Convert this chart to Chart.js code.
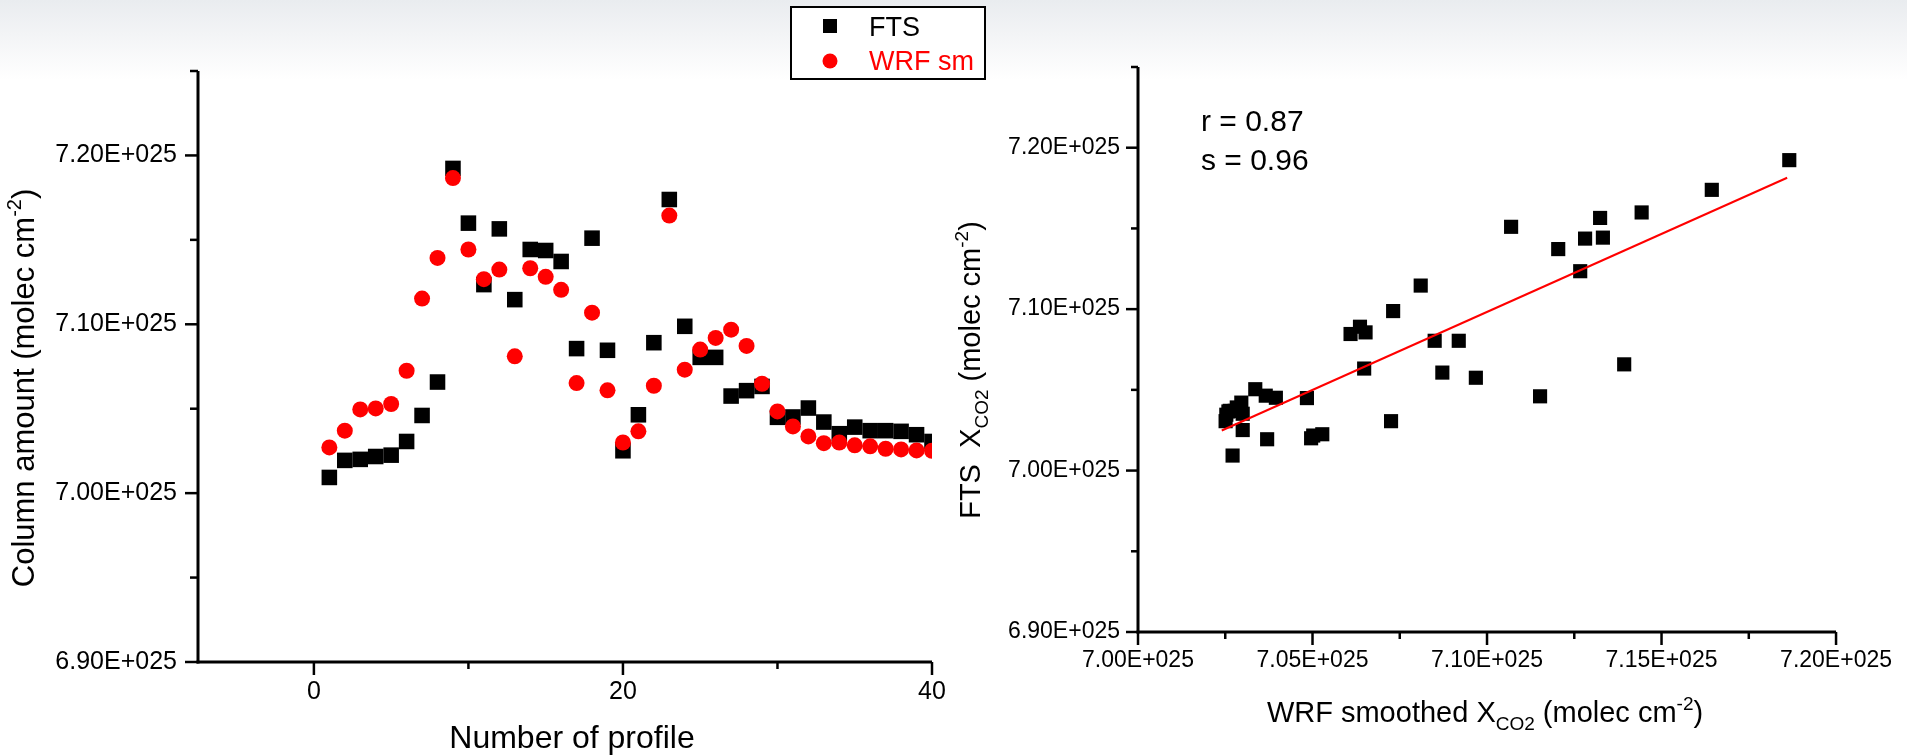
<!DOCTYPE html>
<html><head><meta charset="utf-8">
<script src="https://cdn.jsdelivr.net/npm/chart.js@4.4.1/dist/chart.umd.min.js"></script>
<style>
html,body{margin:0;padding:0;width:1907px;height:756px;overflow:hidden;
background:linear-gradient(to bottom,#e9ecef 0px,#f3f4f6 35px,#ffffff 80px);}
#c1{position:absolute;left:0;top:0;width:1000px;height:756px;}
#c2{position:absolute;left:940px;top:0;width:967px;height:756px;}
</style></head><body>
<canvas id="c1" width="1000" height="756"></canvas>
<canvas id="c2" width="967" height="756"></canvas>
<script>
// ---- data (values in units of 1E+025 molec cm^-2) ----
const profile = [1,2,3,4,5,6,7,8,9,10,11,12,13,14,15,16,17,18,19,20,21,22,23,24,25,26,27,28,29,30,31,32,33,34,35,36,37,38,39,40];
const fts = [7.0093,7.0194,7.0200,7.0217,7.0225,7.0306,7.0460,7.0658,7.1923,7.1599,
             7.1235,7.1565,7.1146,7.1443,7.1437,7.1372,7.0856,7.1510,7.0846,7.0251,
             7.0464,7.0891,7.1739,7.0988,7.0804,7.0804,7.0575,7.0607,7.0632,7.0449,
             7.0451,7.0504,7.0421,7.0352,7.0391,7.0370,7.0370,7.0366,7.0346,7.0306];
const wrfSm = [7.0271,7.0370,7.0496,7.0502,7.0528,7.0725,7.1152,7.1393,7.1866,7.1443,
               7.1267,7.1324,7.0810,7.1332,7.1281,7.1204,7.0652,7.1069,7.0609,7.0300,
               7.0366,7.0636,7.1644,7.0731,7.0850,7.0919,7.0968,7.0872,7.0648,7.0484,
               7.0395,7.0336,7.0296,7.0300,7.0283,7.0277,7.0263,7.0259,7.0253,7.0251];
const seriesNames = ['FTS','WRF sm'];
const fitX = [7.024, 7.186];
const fitY = [7.0248, 7.1814];
const statsText = ['r = 0.87','s = 0.96'];
const leftXTicks = [0,10,20,30,40];
const leftXLabels = ['0','','20','','40'];
const leftYTicks = [6.90,6.95,7.00,7.05,7.10,7.15,7.20,7.25];
const leftYLabels = ['6.90E+025','','7.00E+025','','7.10E+025','','7.20E+025',''];
const rightXTicks = [7.00,7.025,7.05,7.075,7.10,7.125,7.15,7.175,7.20];
const rightXLabels = ['7.00E+025','','7.05E+025','','7.10E+025','','7.15E+025','','7.20E+025'];
const rightYTicks = [6.90,6.95,7.00,7.05,7.10,7.15,7.20,7.25];
const rightYLabels = ['6.90E+025','','7.00E+025','','7.10E+025','','7.20E+025',''];

const FAM = '"Liberation Sans", Arial, Helvetica, sans-serif';
Chart.defaults.font.family = FAM;
Chart.defaults.color = '#000';

function drawRich(ctx, runs, size, x, y, rotate, color) {
  const parts = runs.map(r => {
    const fs = r.k === 'n' ? size : Math.round(size * 0.65);
    ctx.font = fs + 'px ' + FAM;
    return {t: r.t, fs, w: ctx.measureText(r.t).width,
            dy: r.k === 'sub' ? size * 0.28 : (r.k === 'sup' ? -size * 0.42 : 0)};
  });
  const total = parts.reduce((a, p) => a + p.w, 0);
  ctx.save();
  ctx.translate(x, y);
  if (rotate) ctx.rotate(-Math.PI / 2);
  ctx.fillStyle = color; ctx.textBaseline = 'alphabetic'; ctx.textAlign = 'left';
  let cx = -total / 2;
  for (const p of parts) { ctx.font = p.fs + 'px ' + FAM; ctx.fillText(p.t, cx, p.dy); cx += p.w; }
  ctx.restore();
}

function line(ctx, x1, y1, x2, y2) { ctx.beginPath(); ctx.moveTo(x1, y1); ctx.lineTo(x2, y2); ctx.stroke(); }

function axesPlugin(xTicks, xLabels, yTicks, yLabels, xMaj, xMin, yMaj, yMin) {
  return {
    id: 'axesDraw',
    afterDraw(chart) {
      const ctx = chart.ctx, ca = chart.chartArea;
      const xs = chart.scales.x, ys = chart.scales.y;
      ctx.save();
      ctx.strokeStyle = '#000'; ctx.lineCap = 'butt';
      ctx.lineWidth = 3;
      line(ctx, ca.left, ca.top, ca.left, ca.bottom + 1.5);
      line(ctx, ca.left - 1.5, ca.bottom, ca.right, ca.bottom);
      ctx.lineWidth = 2.5;
      yTicks.forEach((v, i) => {
        const py = ys.getPixelForValue(v);
        const len = yLabels[i] ? yMaj : yMin;
        line(ctx, ca.left - len, py, ca.left, py);
      });
      xTicks.forEach((v, i) => {
        const px = xs.getPixelForValue(v);
        const len = xLabels[i] ? xMaj : xMin;
        line(ctx, px, ca.bottom, px, ca.bottom + len);
      });
      ctx.restore();
    }
  };
}

function scaleCfg(min, max, ticks, labels, fitSize, isX, fontSize, pad) {
  return {
    type: 'linear', min, max,
    afterBuildTicks: s => { s.ticks = ticks.map(v => ({value: v})); },
    afterFit: s => { if (isX) s.height = fitSize; else s.width = fitSize; },
    grid: {display: false, drawTicks: false},
    border: {display: false},
    ticks: {callback: (v, i) => labels[i], padding: pad, color: '#000',
            font: {family: FAM, size: fontSize}, autoSkip: false, maxRotation: 0, minRotation: 0}
  };
}

// ---- left chart ----
const leftExtras = {
  id: 'leftExtras',
  afterDraw(chart) {
    const ctx = chart.ctx;
    drawRich(ctx, [{t: 'Column amount (molec cm', k: 'n'}, {t: '-2', k: 'sup'}, {t: ')', k: 'n'}], 31, 34, 388, true, '#000');
    drawRich(ctx, [{t: 'Number of profile', k: 'n'}], 32, 572, 748, false, '#000');
    // legend
    const ds = chart.data.datasets;
    ctx.save();
    ctx.fillStyle = '#fff'; ctx.fillRect(791, 7, 194, 72);
    ctx.strokeStyle = '#000'; ctx.lineWidth = 2; ctx.strokeRect(791, 7, 194, 72);
    const f = ds.find(d => d.label === seriesNames[0]);
    const w = ds.find(d => d.label === seriesNames[1]);
    ctx.fillStyle = f.backgroundColor; ctx.fillRect(823, 19, 14, 14);
    ctx.fillStyle = w.backgroundColor; ctx.beginPath(); ctx.arc(830, 61, 7.5, 0, Math.PI * 2); ctx.fill();
    ctx.font = '27px ' + FAM; ctx.textBaseline = 'alphabetic'; ctx.textAlign = 'left';
    ctx.fillStyle = '#000'; ctx.fillText(f.label, 869, 36);
    ctx.fillStyle = '#ff0000'; ctx.fillText(w.label, 869, 70);
    ctx.restore();
  }
};

new Chart(document.getElementById('c1'), {
  type: 'scatter',
  data: {
    datasets: [
      {label: seriesNames[0], data: profile.map((p, i) => ({x: p, y: fts[i]})),
       pointStyle: 'rect', pointRadius: 11, backgroundColor: '#000000', borderWidth: 0, order: 1, clip: 0},
      {label: seriesNames[1], data: profile.map((p, i) => ({x: p, y: wrfSm[i]})),
       pointStyle: 'circle', pointRadius: 8, backgroundColor: '#ff0000', borderWidth: 0, order: 0, clip: 0}
    ]
  },
  options: {
    responsive: false, animation: false, devicePixelRatio: 1,
    layout: {padding: {left: 0, top: 71, right: 68, bottom: 0}},
    plugins: {legend: {display: false}, tooltip: {enabled: false}},
    scales: {
      x: scaleCfg(-7.5, 40, leftXTicks, leftXLabels, 94, true, 25, 15),
      y: scaleCfg(6.90, 7.25, leftYTicks, leftYLabels, 198, false, 25, 21)
    }
  },
  plugins: [axesPlugin(leftXTicks, leftXLabels, leftYTicks, leftYLabels, 13, 7, 13, 8), leftExtras]
});

// ---- right chart ----
const rightExtras = {
  id: 'rightExtras',
  afterDraw(chart) {
    const ctx = chart.ctx;
    drawRich(ctx, [{t: 'FTS  X', k: 'n'}, {t: 'CO2', k: 'sub'}, {t: ' (molec cm', k: 'n'}, {t: '-2', k: 'sup'}, {t: ')', k: 'n'}], 29, 40, 370, true, '#000');
    drawRich(ctx, [{t: 'WRF smoothed X', k: 'n'}, {t: 'CO2', k: 'sub'}, {t: ' (molec cm', k: 'n'}, {t: '-2', k: 'sup'}, {t: ')', k: 'n'}], 29, 545, 722, false, '#000');
    ctx.save();
    ctx.font = '30px ' + FAM; ctx.fillStyle = '#000'; ctx.textAlign = 'left'; ctx.textBaseline = 'alphabetic';
    ctx.fillText(statsText[0], 261, 131);
    ctx.fillText(statsText[1], 261, 170);
    ctx.restore();
  }
};

new Chart(document.getElementById('c2'), {
  type: 'scatter',
  data: {
    datasets: [
      {label: 'FTS vs WRF', data: wrfSm.map((w, i) => ({x: w, y: fts[i]})),
       pointStyle: 'rect', pointRadius: 10, backgroundColor: '#000000', borderWidth: 0, order: 1},
      {label: 'fit', data: fitX.map((x, i) => ({x, y: fitY[i]})), showLine: true,
       borderColor: '#ff0000', borderWidth: 2, pointRadius: 0, order: 0}
    ]
  },
  options: {
    responsive: false, animation: false, devicePixelRatio: 1,
    layout: {padding: {left: 0, top: 67, right: 65, bottom: 0}},
    plugins: {legend: {display: false}, tooltip: {enabled: false}},
    scales: {
      x: scaleCfg(7.00, 7.20, rightXTicks, rightXLabels, 124, true, 23, 15),
      y: scaleCfg(6.90, 7.25, rightYTicks, rightYLabels, 198, false, 23, 18)
    }
  },
  plugins: [axesPlugin(rightXTicks, rightXLabels, rightYTicks, rightYLabels, 13, 7, 12, 7), rightExtras]
});
</script>
</body></html>
